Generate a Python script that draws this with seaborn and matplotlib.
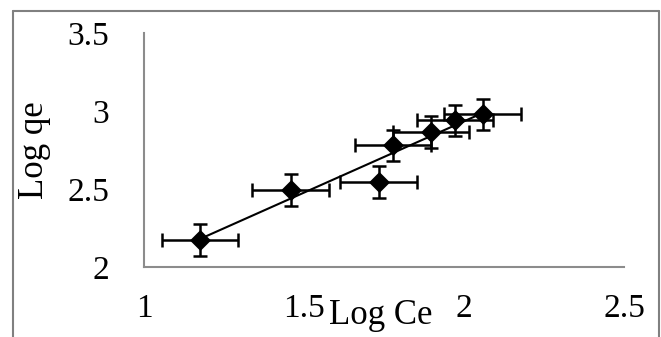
import matplotlib
matplotlib.use("Agg")
import matplotlib.pyplot as plt
import seaborn as sns
import pandas as pd
from matplotlib.lines import Line2D

# Data
log_ce = [1.175, 1.459, 1.734, 1.778, 1.897, 1.972, 2.059]
log_qe = [2.173, 2.494, 2.545, 2.780, 2.865, 2.940, 2.980]
x_err = [0.12] * 7
y_err = [0.10] * 7
x_ticks = [1, 1.5, 2, 2.5]
x_tick_labels = ["1", "1.5", "2", "2.5"]
y_ticks = [2, 2.5, 3, 3.5]
y_tick_labels = ["2", "2.5", "3", "3.5"]

df = pd.DataFrame({"Log Ce": log_ce, "Log qe": log_qe})

sns.set_theme(style="white")
plt.rcParams["font.family"] = ["Liberation Serif", "DejaVu Serif"]

W, H = 661, 337
fig = plt.figure(figsize=(W / 100, H / 100), dpi=100)
ax = fig.add_axes([144 / W, 1 - 267 / H, (624 - 144) / W, (267 - 33) / H])

# trend line
sns.regplot(data=df, x="Log Ce", y="Log qe", ax=ax, scatter=False, ci=None,
            truncate=True, color="black", line_kws={"lw": 1.5, "zorder": 2})

# error bars
ax.errorbar(log_ce, log_qe, xerr=x_err, yerr=y_err, fmt="none",
            ecolor="black", elinewidth=1.8, capsize=5, capthick=1.8, zorder=3)

# markers
sns.scatterplot(data=df, x="Log Ce", y="Log qe", ax=ax, marker="D", s=115,
                color="black", edgecolor="black", linewidth=0, zorder=4)

ax.set_xlim(1, 2.5)
ax.set_ylim(2, 3.5)
ax.set_xticks(x_ticks)
ax.set_xticklabels(x_tick_labels)
ax.set_yticks(y_ticks)
ax.set_yticklabels(y_tick_labels)
ax.tick_params(axis="both", length=0, labelsize=24, colors="black")
ax.tick_params(axis="x", pad=19)
ax.tick_params(axis="y", pad=25)

for s in ["top", "right"]:
    ax.spines[s].set_visible(False)
for s in ["left", "bottom"]:
    ax.spines[s].set_color("#8c8c8c")
    ax.spines[s].set_linewidth(1.5)

ax.set_xlabel("Log Ce", fontsize=25, color="black", va="baseline")
ax.xaxis.set_label_coords((381 - 144) / 480, (267 - 324) / 234)
ax.set_ylabel("Log qe", fontsize=25, color="black")
ax.yaxis.set_label_coords((51 - 144) / 480, (267 - 150) / 234)

# outer frame (left, top, right)
frame_kw = dict(color="#808080", lw=1.5, transform=fig.transFigure)
fig.add_artist(Line2D([13.5 / W, 13.5 / W], [0, 1 - 10.5 / H], **frame_kw))
fig.add_artist(Line2D([13.5 / W, 658.5 / W], [1 - 10.5 / H, 1 - 10.5 / H], **frame_kw))
fig.add_artist(Line2D([658.5 / W, 658.5 / W], [0, 1 - 10.5 / H], **frame_kw))

fig.savefig("out.png", dpi=100)
